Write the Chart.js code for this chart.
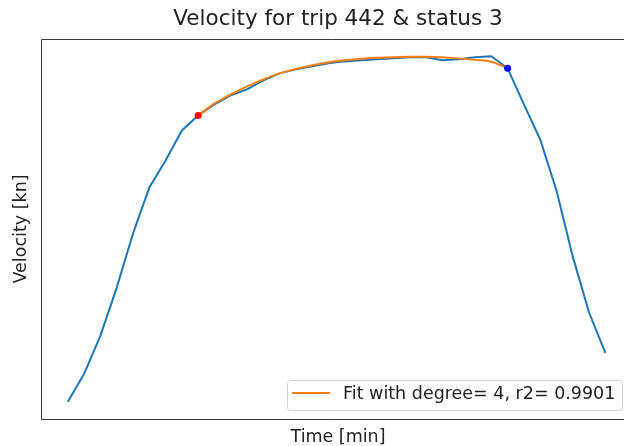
<!DOCTYPE html>
<html>
<head>
<meta charset="utf-8">
<script src="https://cdn.jsdelivr.net/npm/chart.js@4"></script>
<style>
    html, body { margin: 0; padding: 0; background: #fff; overflow: hidden; }
</style>
</head>
<body>
<canvas id="myChart" width="624" height="446"></canvas>
<script>
//Chart Data
var timeMin = [0, 1, 2, 3, 4, 5, 6, 7, 8, 9, 10, 11, 12, 13, 14, 15, 16, 17, 18, 19, 20, 21, 22, 23, 24, 25, 26, 27, 28, 29, 30, 31, 32, 33];
var velocityKn = [0.60, 1.53, 2.80, 4.40, 6.20, 7.73, 8.63, 9.63, 10.13, 10.50, 10.80, 11.00, 11.30, 11.53, 11.67, 11.77, 11.87, 11.93, 11.97, 12.00, 12.03, 12.07, 12.07, 11.97, 12.00, 12.07, 12.10, 11.70, 10.50, 9.33, 7.63, 5.43, 3.57, 2.23];
//Degree 4 fit, from fitStart to fitEnd
var fitStart = 8;
var fitEnd = 27;
var fitKn = [10.13, 10.53, 10.83, 11.10, 11.33, 11.53, 11.68, 11.80, 11.90, 11.97, 12.02, 12.05, 12.07, 12.08, 12.08, 12.07, 12.03, 11.98, 11.92, 11.70];
var fitLabel = 'Fit with degree= 4, r2= 0.9901';
//visible part of the time axis (the right spine falls outside the view)
var xMin = -1.65;
var xMax = 33.9;

var fontFamily = '"DejaVu Sans", sans-serif';

//Populate chart data
var velocityData = [];
timeMin.forEach(function (t, i) {
    velocityData.push({ x: t, y: velocityKn[i] });
});
var fitData = [];
fitKn.forEach(function (v, i) {
    fitData.push({ x: timeMin[fitStart + i], y: v });
});

//5% margin above and below the data
var yPad = (Math.max.apply(null, velocityKn) - Math.min.apply(null, velocityKn)) * 0.05;

//Frame, titles and legend box
var decorations = {
    id: 'decorations',
    afterDraw(chart) {
        var ctx = chart.ctx;
        var a = chart.chartArea;
        var l = Math.round(a.left) + 0.5, t = Math.round(a.top) + 0.5, b = Math.round(a.bottom) + 0.5;
        ctx.save();
        ctx.strokeStyle = '#3a3a3a';
        ctx.lineWidth = 1;
        ctx.beginPath();
        ctx.moveTo(chart.width, t);
        ctx.lineTo(l, t);
        ctx.lineTo(l, b);
        ctx.lineTo(chart.width, b);
        ctx.stroke();

        ctx.fillStyle = '#222';
        ctx.textAlign = 'center';
        ctx.textBaseline = 'middle';
        ctx.font = '21.5px ' + fontFamily;
        ctx.fillText('Velocity for trip 442 & status 3', 338, 19);
        ctx.font = '17.5px ' + fontFamily;
        ctx.fillText('Time [min]', 338, 437);
        ctx.save();
        ctx.translate(21, (a.top + a.bottom) / 2);
        ctx.rotate(-Math.PI / 2);
        ctx.fillText('Velocity [kn]', 0, 0);
        ctx.restore();

        //legend, lower right
        var bx = 287.5, by = 380.5, bw = 335, bh = 30;
        ctx.beginPath();
        ctx.roundRect(bx, by, bw, bh, 3);
        ctx.fillStyle = 'rgba(255,255,255,0.8)';
        ctx.fill();
        ctx.strokeStyle = '#d4d4d4';
        ctx.stroke();
        ctx.beginPath();
        ctx.moveTo(292, 393);
        ctx.lineTo(330, 393);
        ctx.strokeStyle = '#ff7f0e';
        ctx.lineWidth = 2;
        ctx.stroke();
        ctx.fillStyle = '#222';
        ctx.textAlign = 'left';
        ctx.font = '17.5px ' + fontFamily;
        ctx.fillText(fitLabel, 343, 394);
        ctx.restore();
    }
};

const ctx = document.getElementById('myChart');
const myChart = new Chart(ctx, {
    type: 'line',
    data: {
        datasets: [{
            label: 'Velocity',
            order: 3,
            borderColor: '#1f77b4',
            borderWidth: 2,
            pointRadius: 0,
            data: velocityData
        }, {
            label: fitLabel,
            order: 2,
            borderColor: '#ff7f0e',
            borderWidth: 2,
            pointRadius: 0,
            cubicInterpolationMode: 'monotone',
            data: fitData
        }, {
            label: 'Start',
            order: 1,
            type: 'scatter',
            backgroundColor: '#ff0000',
            borderWidth: 0,
            pointRadius: 3.5,
            data: [{ x: timeMin[fitStart], y: velocityKn[fitStart] }]
        }, {
            label: 'End',
            order: 1,
            type: 'scatter',
            backgroundColor: '#0000ff',
            borderWidth: 0,
            pointRadius: 3.5,
            data: [{ x: timeMin[fitEnd], y: velocityKn[fitEnd] }]
        }]
    },
    options: {
        responsive: false,
        animation: false,
        layout: {
            padding: { left: 41, top: 39, right: 0, bottom: 27 }
        },
        plugins: {
            legend: { display: false },
            tooltip: { enabled: false }
        },
        scales: {
            x: {
                type: 'linear',
                display: false,
                min: xMin,
                max: xMax
            },
            y: {
                display: false,
                min: Math.min.apply(null, velocityKn) - yPad,
                max: Math.max.apply(null, velocityKn) + yPad
            }
        }
    },
    plugins: [decorations]
});
</script>
</body>
</html>
